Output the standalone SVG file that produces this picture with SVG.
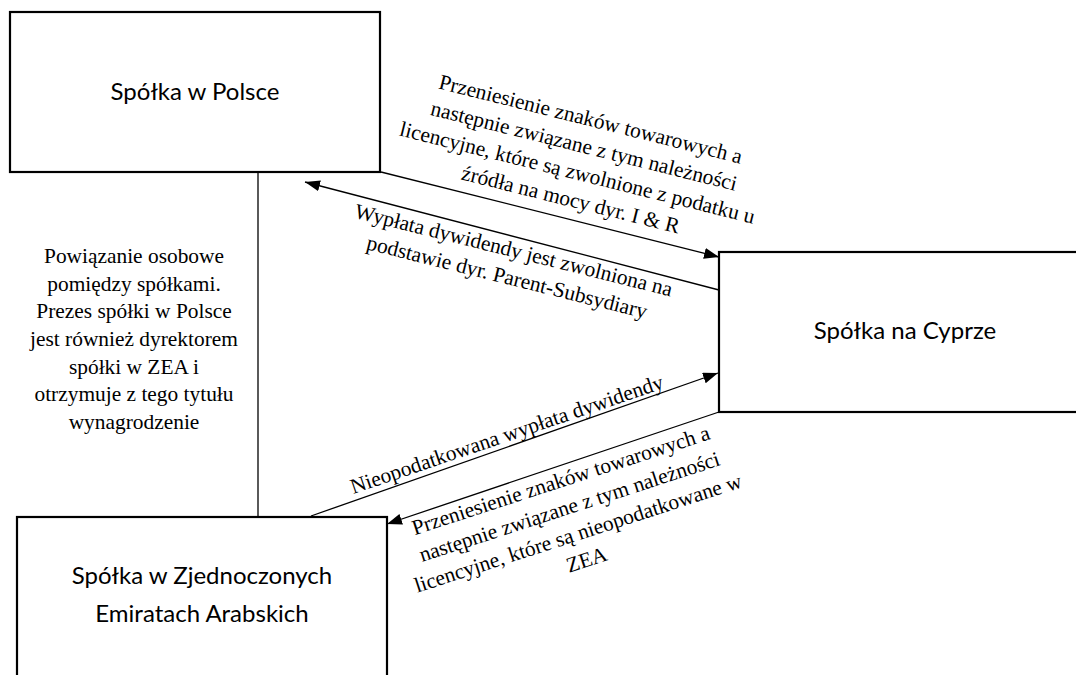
<svg xmlns="http://www.w3.org/2000/svg" width="1076" height="675" viewBox="0 0 1076 675">
<style>
.box{fill:#fff;stroke:#000;stroke-width:2.2}
.nt{font-family:Lato,"Liberation Sans",sans-serif;font-size:24px;fill:#000;text-anchor:middle}
.lb{font-family:"Liberation Serif","Times New Roman",serif;font-size:21.4px;fill:#000;text-anchor:middle}
.ln{stroke:#000;stroke-width:1.3;fill:none}
</style>
<defs>
<marker id="ah" markerUnits="userSpaceOnUse" markerWidth="16" markerHeight="12" refX="15" refY="5.5" orient="auto">
<path d="M0,0 L15,5.5 L0,11 z" fill="#000"/>
</marker>
</defs>
<rect width="1076" height="675" fill="#fff"/>
<g id="connectors">
<line class="ln" x1="258" y1="172" x2="258" y2="517"/>
<line class="ln" x1="381" y1="172" x2="719" y2="257" marker-end="url(#ah)"/>
<line class="ln" x1="719" y1="290" x2="305" y2="182" marker-end="url(#ah)"/>
<line class="ln" x1="311" y1="516" x2="718" y2="373" marker-end="url(#ah)"/>
<line class="ln" x1="719" y1="412" x2="387" y2="524" marker-end="url(#ah)"/>
</g>
<g id="node-polska">
<rect class="box" x="10" y="12" width="370" height="160"/>
<text class="nt" x="195" y="100">Spółka w Polsce</text>
</g>
<g id="node-cypr">
<rect class="box" x="719" y="252" width="372" height="160"/>
<text class="nt" x="905" y="339">Spółka na Cyprze</text>
</g>
<g id="node-zea">
<rect class="box" x="17" y="517" width="370" height="170"/>
<text class="nt" x="202" y="584">Spółka w Zjednoczonych</text>
<text class="nt" x="202" y="622">Emiratach Arabskich</text>
</g>
<g id="label-powiazanie">
<text class="lb" x="134" y="263">Powiązanie osobowe</text>
<text class="lb" x="134" y="291">pomiędzy spółkami.</text>
<text class="lb" x="134" y="318">Prezes spółki w Polsce</text>
<text class="lb" x="134" y="346">jest również dyrektorem</text>
<text class="lb" x="134" y="374">spółki w ZEA i</text>
<text class="lb" x="134" y="401">otrzymuje z tego tytułu</text>
<text class="lb" x="134" y="429">wynagrodzenie</text>
</g>
<g id="label-a" transform="translate(589,126) rotate(14)">
<text class="lb" x="0" y="0">Przeniesienie znaków towarowych a</text>
<text class="lb" x="0" y="27.6">następnie związane z tym należności</text>
<text class="lb" x="0" y="55.2">licencyjne, które są zwolnione z podatku u</text>
<text class="lb" x="0" y="82.8">źródła na mocy dyr. I &amp; R</text>
</g>
<g id="label-b" transform="translate(512,257) rotate(14)">
<text class="lb" x="0" y="0">Wypłata dywidendy jest zwolniona na</text>
<text class="lb" x="0" y="27.6">podstawie dyr. Parent-Subsydiary</text>
</g>
<g id="label-c" transform="translate(509,441) rotate(-18.8)">
<text class="lb" x="0" y="0">Nieopodatkowana wypłata dywidendy</text>
</g>
<g id="label-d" transform="translate(563,487) rotate(-18)">
<text class="lb" x="0" y="0">Przeniesienie znaków towarowych a</text>
<text class="lb" x="0" y="27.8">następnie związane z tym należności</text>
<text class="lb" x="0" y="55.6">licencyjne, które są nieopodatkowane w</text>
<text class="lb" x="0" y="83.4">ZEA</text>
</g>
</svg>
